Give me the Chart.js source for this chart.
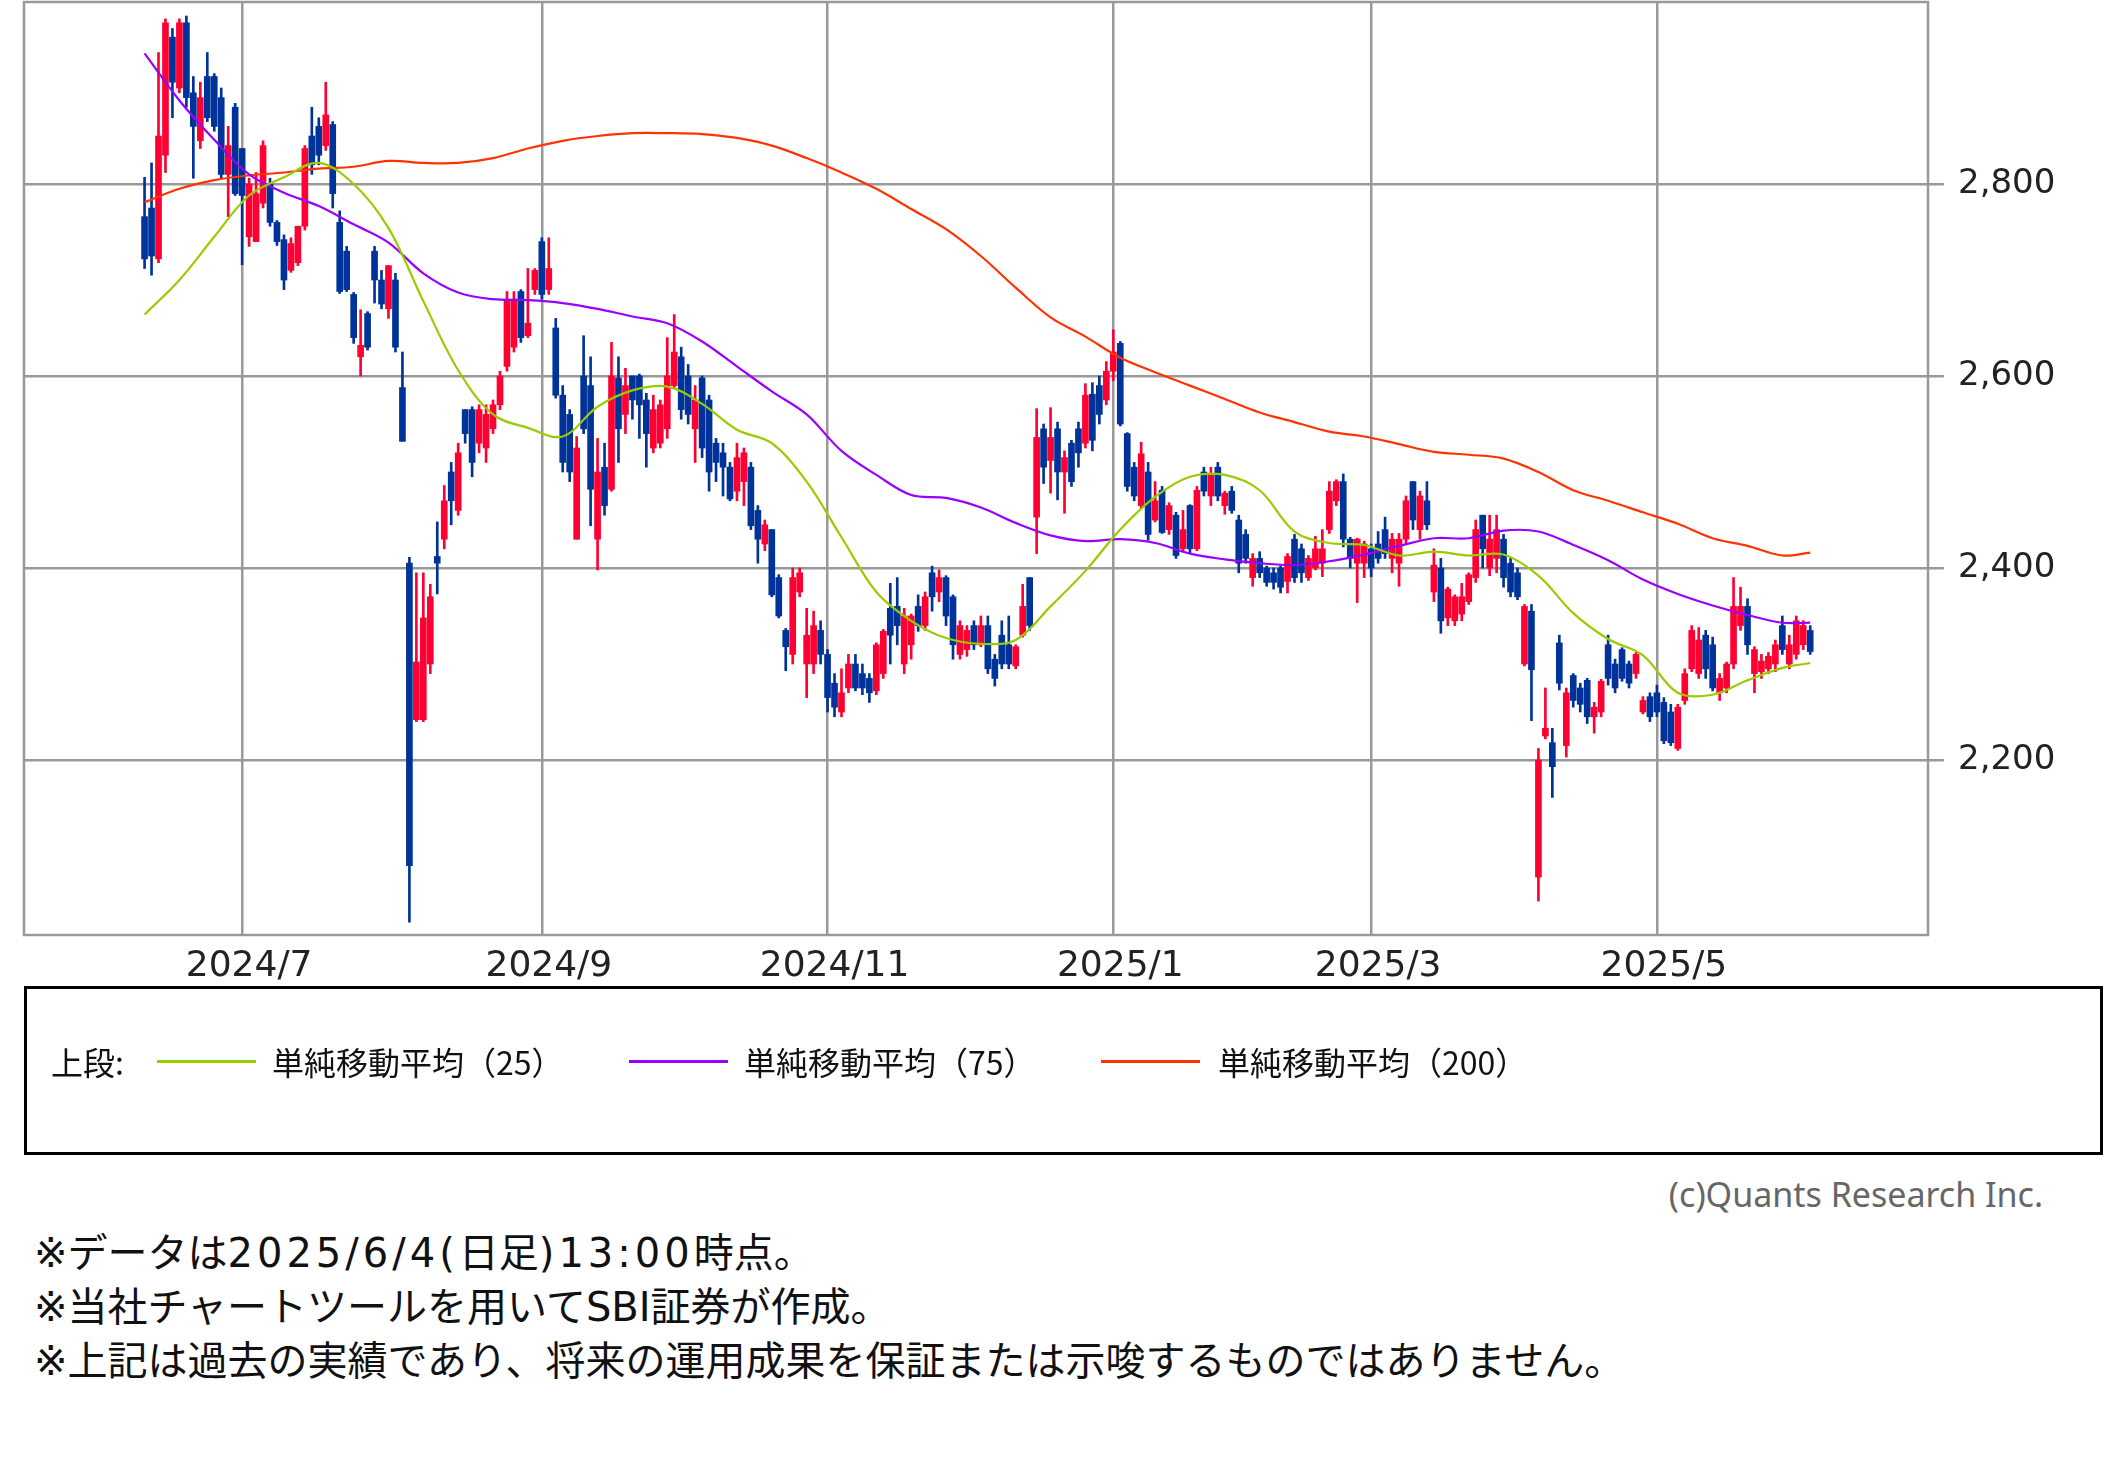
<!DOCTYPE html>
<html lang="ja">
<head>
<meta charset="utf-8">
<title>株価チャート</title>
<script src="https://cdn.jsdelivr.net/npm/chart.js@4.4.1/dist/chart.umd.min.js"></script>
<style>
  html, body { margin: 0; padding: 0; background: #fff; }
  body { width: 2110px; height: 1482px; position: relative; overflow: hidden; }
  #wrap { position: absolute; left: 0; top: 0; width: 2110px; height: 1000px; }
  #legend {
    position: absolute; left: 24px; top: 986px; width: 2073px; height: 163px;
    border: 3px solid #000; font-family: "Noto Sans CJK JP", sans-serif; font-size: 32px; color: #111;
  }
  #legend span { position: absolute; top: 52px; line-height: 40px; white-space: nowrap; }
  #legend i { position: absolute; top: 71px; width: 99px; height: 3px; }
  #copy {
    position: absolute; right: 67px; top: 1174px; font-family: "Noto Sans", sans-serif;
    font-size: 34px; line-height: 40px; color: #666;
  }
  #notes {
    position: absolute; left: 34px; top: 1226px; font-family: "DejaVu Sans", "Noto Sans CJK JP", sans-serif;
    font-size: 40px; line-height: 54px; color: #111; white-space: nowrap;
  }
  #notes .lat { letter-spacing: 4px; }
</style>
</head>
<body>
<div id="wrap"><canvas id="chart" width="2110" height="1000"></canvas></div>

<div id="legend">
  <span style="left:24px">上段:</span>
  <i style="left:130px;background:#99cc00"></i><span style="left:245px">単純移動平均（25）</span>
  <i style="left:602px;background:#9900ff"></i><span style="left:717px">単純移動平均（75）</span>
  <i style="left:1074px;background:#ff3300"></i><span style="left:1191px">単純移動平均（200）</span>
</div>
<div id="copy">(c)Quants Research Inc.</div>
<div id="notes">
  <div>※データは<span class="lat">2025/6/4(</span>日足<span class="lat">)13:00</span>時点。</div>
  <div>※当社チャートツールを用いてSBI証券が作成。</div>
  <div>※上記は過去の実績であり、将来の運用成果を保証または示唆するものではありません。</div>
</div>

<script>
// x axis = trading day index (0 = 2024/6/11, 239 = 2025/6/4)
const monthTickIdx = [14, 57, 98, 139, 176, 217];
const monthTickLabels = ["2024/7", "2024/9", "2024/11", "2025/1", "2025/3", "2025/5"];
const priceTicks = [2200, 2400, 2600, 2800];

const openP = [
  2766,2775,2722,2830,2953,2900,2968,2895,2845,2912,2912,2890,2810,2880,2837,2745,2740,2780,2800,2760,
  2742,2710,2718,2756,2850,2860,2840,2862,2760,2730,2685,2620,2665,2730,2700,2670,2700,2588,2405,2242,
  2242,2300,2412,2430,2500,2460,2565,2565,2530,2525,2545,2570,2610,2630,2688,2642,2690,2740,2690,2650,
  2580,2560,2430,2600,2590,2430,2505,2482,2598,2560,2600,2600,2575,2525,2530,2545,2590,2620,2600,2545,
  2598,2575,2530,2520,2505,2480,2490,2505,2460,2425,2440,2390,2335,2310,2375,2300,2300,2335,2310,2280,
  2250,2275,2300,2290,2285,2272,2290,2358,2360,2300,2320,2360,2340,2395,2375,2390,2370,2310,2315,2340,
  2320,2340,2305,2330,2320,2298,2330,2390,2453,2545,2512,2545,2500,2530,2545,2530,2581,2590,2575,2605,
  2634,2540,2505,2465,2500,2450,2481,2440,2455,2420,2465,2420,2500,2475,2505,2465,2480,2450,2435,2390,
  2410,2400,2395,2400,2386,2430,2420,2390,2400,2405,2440,2470,2490,2430,2405,2405,2420,2425,2440,2410,
  2405,2430,2490,2440,2470,2375,2400,2348,2345,2352,2365,2390,2455,2400,2410,2430,2405,2395,2300,2355,
  2078,2225,2218,2322,2215,2288,2275,2283,2245,2250,2320,2300,2315,2300,2290,2250,2266,2270,2260,2250,
  2212,2262,2295,2290,2330,2320,2270,2275,2300,2340,2360,2290,2292,2295,2300,2340,2300,2310,2320,2335
];
const highP = [
  2807,2822,2937,2972,2962,2972,2975,2912,2906,2937,2915,2900,2860,2884,2837,2806,2812,2845,2806,2762,
  2747,2744,2756,2840,2880,2869,2906,2865,2772,2735,2687,2669,2667,2735,2710,2715,2707,2625,2411,2395,
  2395,2383,2448,2486,2510,2530,2565,2568,2570,2570,2575,2605,2688,2688,2690,2712,2712,2744,2744,2660,
  2590,2565,2537,2642,2620,2535,2530,2635,2620,2608,2600,2602,2582,2580,2575,2640,2664,2630,2612,2590,
  2600,2580,2535,2530,2510,2530,2525,2510,2465,2450,2440,2393,2337,2400,2400,2358,2355,2345,2315,2290,
  2295,2310,2310,2300,2290,2322,2336,2384,2390,2358,2352,2372,2375,2402,2398,2392,2372,2345,2340,2345,
  2350,2350,2310,2345,2350,2320,2383,2390,2566,2550,2567,2552,2522,2533,2552,2592,2593,2600,2615,2648,
  2636,2541,2510,2531,2510,2490,2485,2468,2458,2460,2466,2485,2505,2505,2510,2480,2485,2455,2440,2415,
  2417,2402,2400,2402,2415,2435,2425,2413,2433,2440,2490,2492,2498,2432,2431,2428,2425,2438,2453,2436,
  2436,2475,2490,2480,2490,2420,2410,2380,2372,2384,2395,2450,2455,2455,2455,2435,2410,2400,2362,2362,
  2212,2275,2233,2330,2275,2290,2280,2285,2260,2284,2330,2305,2317,2303,2312,2266,2270,2278,2265,2258,
  2258,2295,2340,2338,2335,2328,2290,2302,2390,2380,2368,2318,2310,2312,2325,2350,2330,2350,2345,2340
];
const lowP = [
  2712,2705,2718,2812,2869,2895,2880,2806,2837,2865,2855,2806,2766,2788,2716,2735,2740,2775,2756,2736,
  2690,2708,2715,2752,2810,2820,2835,2775,2686,2688,2634,2600,2627,2676,2670,2660,2625,2532,2031,2240,
  2240,2290,2373,2420,2445,2455,2530,2495,2520,2510,2540,2565,2605,2625,2635,2640,2685,2680,2685,2577,
  2500,2490,2430,2540,2444,2398,2455,2480,2510,2540,2555,2535,2505,2520,2525,2535,2588,2555,2550,2510,
  2515,2480,2490,2475,2470,2470,2465,2440,2405,2418,2370,2348,2293,2300,2370,2265,2290,2300,2250,2245,
  2245,2270,2272,2268,2260,2268,2285,2300,2320,2290,2305,2334,2335,2355,2365,2340,2305,2305,2308,2315,
  2318,2290,2277,2295,2295,2295,2328,2335,2415,2488,2478,2471,2457,2485,2505,2525,2522,2550,2570,2595,
  2548,2480,2470,2462,2429,2448,2436,2435,2410,2418,2415,2418,2475,2465,2470,2456,2457,2395,2405,2381,
  2390,2381,2378,2374,2374,2385,2385,2387,2398,2391,2436,2465,2422,2400,2364,2390,2391,2405,2410,2395,
  2381,2425,2440,2430,2440,2365,2332,2340,2340,2345,2362,2385,2400,2392,2395,2380,2370,2367,2298,2241,
  2053,2222,2161,2273,2203,2255,2250,2238,2228,2245,2278,2270,2282,2275,2285,2248,2240,2245,2217,2215,
  2210,2258,2292,2285,2285,2272,2262,2270,2295,2335,2310,2270,2285,2290,2292,2310,2295,2305,2315,2310
];
const closeP = [
  2722,2725,2850,2968,2906,2968,2890,2860,2890,2869,2860,2810,2840,2790,2788,2800,2790,2840,2760,2740,
  2700,2738,2756,2837,2820,2830,2872,2790,2688,2690,2640,2632,2630,2700,2675,2715,2630,2532,2090,2302,
  2348,2370,2405,2470,2470,2520,2540,2510,2565,2560,2570,2600,2680,2680,2640,2655,2710,2685,2712,2580,
  2510,2500,2525,2545,2482,2500,2465,2600,2545,2590,2575,2570,2540,2565,2570,2600,2625,2565,2560,2575,
  2525,2500,2510,2505,2472,2515,2520,2444,2430,2445,2372,2350,2318,2390,2395,2330,2340,2310,2265,2255,
  2270,2300,2275,2275,2270,2320,2334,2330,2340,2350,2350,2340,2370,2370,2390,2350,2320,2340,2335,2320,
  2340,2295,2285,2300,2300,2318,2360,2340,2536,2505,2536,2500,2515,2490,2520,2580,2533,2560,2605,2625,
  2550,2485,2475,2519,2435,2470,2437,2465,2413,2440,2420,2481,2480,2497,2475,2478,2460,2405,2410,2410,
  2395,2385,2385,2380,2412,2390,2395,2410,2420,2420,2480,2490,2430,2410,2430,2425,2400,2410,2415,2430,
  2430,2470,2450,2475,2445,2403,2345,2378,2370,2370,2393,2440,2420,2430,2440,2390,2375,2370,2360,2294,
  2200,2233,2193,2280,2270,2262,2258,2245,2255,2282,2285,2275,2285,2280,2310,2262,2245,2250,2220,2218,
  2255,2290,2335,2325,2295,2275,2285,2300,2360,2360,2320,2315,2303,2308,2320,2315,2320,2345,2340,2313
];

// moving averages read every 5 trading days
const maDays = [0,5,10,15,20,25,30,35,40,45,50,55,60,65,70,75,80,85,90,95,100,105,110,115,120,
  125,130,135,140,145,150,155,160,165,170,175,180,185,190,195,200,205,210,215,220,225,230,235,239];
const ma25 = [2664,2700,2745,2788,2807,2822,2800,2754,2678,2606,2560,2546,2537,2568,2585,2589,2571,2544,2530,2490,
  2432,2375,2345,2327,2321,2325,2360,2397,2440,2474,2495,2497,2481,2438,2426,2424,2413,2417,2413,2414,
  2392,2353,2326,2309,2270,2268,2283,2296,2301];
const ma75 = [2936,2887,2846,2810,2791,2777,2758,2739,2707,2687,2680,2679,2676,2670,2662,2655,2636,2610,2584,2560,
  2522,2497,2476,2473,2463,2447,2434,2428,2430,2426,2415,2409,2405,2403,2407,2414,2423,2431,2431,2439,
  2438,2424,2408,2388,2373,2361,2351,2343,2343];
const ma200 = [2781,2795,2804,2809,2812,2816,2818,2824,2822,2822,2827,2837,2845,2850,2853,2853,2852,2848,2840,2827,
  2812,2795,2774,2753,2725,2692,2661,2641,2619,2604,2590,2576,2562,2552,2542,2537,2529,2521,2518,2514,
  2500,2481,2470,2458,2446,2431,2423,2413,2416];

const upColor = "#ff0033";
const downColor = "#003399";
const candleColors = closeP.map((c, i) => (c >= openP[i] ? upColor : downColor));

function maLine(values, color) {
  return {
    type: "line",
    data: maDays.map((d, k) => ({ x: d, y: values[k] })),
    borderColor: color,
    borderWidth: 2.2,
    pointRadius: 0,
    tension: 0.35,
    order: 0
  };
}

// grey box round the plot area
const frame = {
  id: "frame",
  afterDraw(chart) {
    const { ctx, chartArea: a } = chart;
    ctx.save();
    ctx.strokeStyle = "#999";
    ctx.lineWidth = 2.5;
    ctx.strokeRect(a.left, a.top, a.right - a.left, a.bottom - a.top);
    ctx.restore();
  }
};

new Chart(document.getElementById("chart"), {
  type: "bar",
  data: {
    datasets: [
      {
        label: "wick",
        data: closeP.map((_, i) => ({ x: i, y: [lowP[i], highP[i]] })),
        backgroundColor: candleColors,
        barThickness: 2,
        grouped: false,
        order: 2
      },
      {
        label: "body",
        data: closeP.map((_, i) => ({ x: i, y: [openP[i], closeP[i]] })),
        backgroundColor: candleColors,
        barThickness: 6,
        minBarLength: 2,
        grouped: false,
        order: 1
      },
      maLine(ma25, "#99cc00"),
      maLine(ma75, "#9900ff"),
      maLine(ma200, "#ff3300")
    ]
  },
  options: {
    responsive: false,
    animation: false,
    layout: { padding: { left: 24, top: 2 } },
    plugins: { legend: { display: false }, tooltip: { enabled: false } },
    scales: {
      x: {
        type: "linear",
        min: -17.3,
        max: 255.9,
        offset: false,
        afterBuildTicks: (scale) => {
          scale.ticks = monthTickIdx.map((v) => ({ value: v }));
        },
        afterFit: (scale) => {
          scale.height = 65;
          scale.paddingLeft = 0;
          scale.paddingRight = 0;
        },
        ticks: {
          autoSkip: false,
          maxRotation: 0,
          padding: 10,
          labelOffset: 7,
          color: "#222",
          font: { family: "DejaVu Sans", size: 36 },
          callback: (value) => monthTickLabels[monthTickIdx.indexOf(value)]
        },
        grid: { color: "#999", lineWidth: 2.5, drawTicks: false, offset: false },
        border: { display: false }
      },
      y: {
        position: "right",
        min: 2017.7,
        max: 2989.6,
        afterBuildTicks: (scale) => {
          scale.ticks = priceTicks.map((v) => ({ value: v }));
        },
        afterFit: (scale) => {
          scale.width = 182;
          scale.paddingTop = 0;
          scale.paddingBottom = 0;
        },
        ticks: {
          padding: 14,
          color: "#222",
          font: { family: "DejaVu Sans", size: 34 },
          callback: (value) => value.toLocaleString("en-US")
        },
        grid: { color: "#999", lineWidth: 2.5, tickLength: 16 },
        border: { display: false }
      }
    }
  },
  plugins: [frame]
});
</script>
</body>
</html>
